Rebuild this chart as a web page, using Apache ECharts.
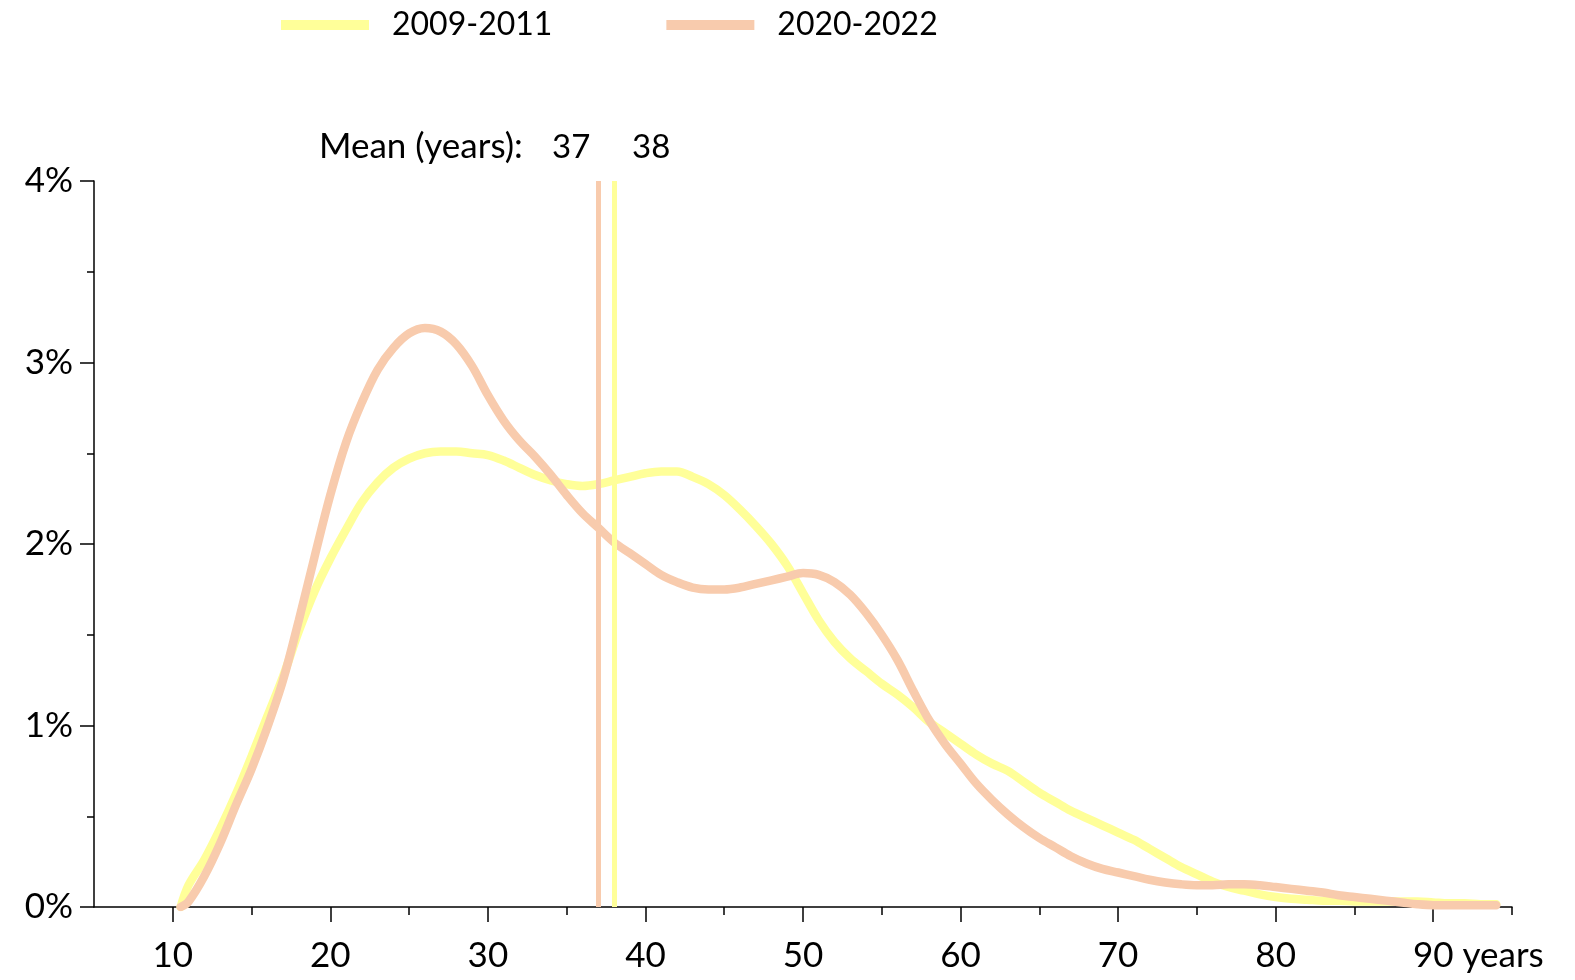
<!DOCTYPE html>
<html>
<head>
<meta charset="utf-8">
<script src="https://cdn.jsdelivr.net/npm/echarts@6/dist/echarts.min.js"></script>
<style>
  html, body { margin: 0; padding: 0; background: #ffffff; }
  #chart { width: 1575px; height: 980px; }
</style>
</head>
<body>
<div id="chart"></div>
<script>
// ---- Data ----
const seriesNames = ['2009-2011', '2020-2022'];
const seriesColors = ['#FFFF99', '#F8CBAD'];
const ages = [10.5, 11, 12, 13, 14, 15, 16, 17, 18, 19, 20, 21, 22, 23, 24, 25, 26, 27, 28, 29, 30,
  31, 32, 33, 34, 35, 36, 37, 38, 39, 40, 41, 42, 43, 44, 45, 46, 47, 48, 49, 50,
  51, 52, 53, 54, 55, 56, 57, 58, 59, 60, 61, 62, 63, 64, 65, 66, 67, 68, 69, 70,
  71, 72, 73, 74, 75, 76, 77, 78, 79, 80, 81, 82, 83, 84, 85, 86, 87, 88, 89, 90,
  91, 92, 93, 94];
const share2009 = [0, 0.12, 0.26, 0.43, 0.62, 0.83, 1.05, 1.27, 1.52, 1.74, 1.92,
  2.08, 2.23, 2.34, 2.42, 2.47, 2.50, 2.51, 2.51, 2.50, 2.49,
  2.46, 2.42, 2.38, 2.35, 2.33, 2.32, 2.33, 2.35, 2.37, 2.39,
  2.40, 2.40, 2.37, 2.33, 2.27, 2.19, 2.10, 2.00, 1.88, 1.73,
  1.58, 1.46, 1.37, 1.30, 1.23, 1.17, 1.10, 1.02, 0.96, 0.90,
  0.84, 0.79, 0.75, 0.69, 0.63, 0.58, 0.53, 0.49, 0.45, 0.41,
  0.37, 0.32, 0.27, 0.22, 0.18, 0.14, 0.11, 0.09, 0.07, 0.055,
  0.045, 0.04, 0.035, 0.035, 0.03, 0.03, 0.03, 0.03, 0.03, 0.025,
  0.02, 0.02, 0.015, 0.015];
const share2020 = [0, 0.03, 0.17, 0.35, 0.56, 0.76, 0.99, 1.25, 1.58, 1.93, 2.27,
  2.56, 2.78, 2.96, 3.08, 3.16, 3.19, 3.17, 3.10, 2.98, 2.82,
  2.68, 2.57, 2.48, 2.38, 2.27, 2.17, 2.09, 2.01, 1.95, 1.89,
  1.83, 1.79, 1.76, 1.75, 1.75, 1.76, 1.78, 1.80, 1.82, 1.84,
  1.83, 1.79, 1.72, 1.62, 1.50, 1.36, 1.19, 1.03, 0.90, 0.79,
  0.68, 0.59, 0.51, 0.44, 0.38, 0.33, 0.28, 0.24, 0.21, 0.19,
  0.17, 0.15, 0.135, 0.125, 0.12, 0.12, 0.125, 0.125, 0.12, 0.11,
  0.10, 0.09, 0.08, 0.065, 0.055, 0.045, 0.035, 0.025, 0.015, 0.01,
  0.01, 0.01, 0.01, 0.01];
const means = [38, 37];            // 2009-2011, 2020-2022
const meanLabelValues = [37, 38];  // as printed in the header
const meanTitle = 'Mean (years):';
const xMajorTicks = [10, 20, 30, 40, 50, 60, 70, 80, 90];
const xMinorTicks = [15, 25, 35, 45, 55, 65, 75, 85, 95];
const xUnit = 'years';
const yTicks = [0, 1, 2, 3, 4];

// ---- Layout helpers ----
const FONT = 'Lato';
const LABEL_SIZE = 35;
function textWidth(str, size) {
  const c = document.createElement('canvas').getContext('2d');
  c.font = size + 'px ' + FONT;
  return c.measureText(str).width;
}
const unitPad = textWidth(' ' + xUnit, LABEL_SIZE);

const chart = echarts.init(document.getElementById('chart'), null, { renderer: 'canvas' });

const makeSeries = (i, values) => ({
  name: seriesNames[i],
  type: 'line',
  xAxisIndex: 0,
  yAxisIndex: 0,
  data: ages.map((a, k) => [a, values[k]]),
  smooth: 0.35,
  showSymbol: false,
  symbol: 'none',
  lineStyle: { color: seriesColors[i], width: 8.5, cap: 'round' },
  itemStyle: { color: seriesColors[i] },
  emphasis: { disabled: true },
  markLine: {
    silent: true,
    symbol: ['none', 'none'],
    label: { show: false },
    lineStyle: { color: seriesColors[i], width: 5, type: 'solid' },
    emphasis: { disabled: true },
    data: [{ xAxis: means[i] }]
  },
  z: 2 + i
});

const option = {
  backgroundColor: '#ffffff',
  animation: false,
  textStyle: { fontFamily: FONT },
  grid: { left: 94, right: 63, top: 181, bottom: 73, containLabel: false, outerBoundsMode: 'none' },
  legend: {
    left: 281,
    top: 9,
    padding: 0,
    icon: 'rect',
    itemWidth: 88,
    itemHeight: 10,
    itemGap: 114,
    data: seriesNames,
    textStyle: { fontSize: 32, color: '#000', fontFamily: FONT, padding: [0, 0, 0, 18] }
  },
  graphic: [
    { type: 'text', left: 319, top: 129, style: { text: meanTitle, fontSize: 35, fontFamily: FONT, fill: '#000' } },
    { type: 'text', left: 552, top: 131, style: { text: String(meanLabelValues[0]), fontSize: 33, fontFamily: FONT, fill: '#000' } },
    { type: 'text', left: 632, top: 131, style: { text: String(meanLabelValues[1]), fontSize: 33, fontFamily: FONT, fill: '#000' } }
  ],
  xAxis: [
    {
      type: 'value',
      min: 5,
      max: 95,
      interval: 5,
      position: 'bottom',
      axisLine: { show: true, onZero: false, lineStyle: { color: '#000', width: 1.5 } },
      axisTick: { show: true, length: 15, customValues: xMajorTicks, lineStyle: { color: '#000', width: 1.5 } },
      axisLabel: {
        show: true,
        customValues: xMajorTicks,
        margin: 31,
        fontSize: LABEL_SIZE,
        fontFamily: FONT,
        color: '#000',
        formatter: v => v === xMajorTicks[xMajorTicks.length - 1] ? '{u|' + v + ' ' + xUnit + '}' : String(v),
        rich: { u: { fontSize: LABEL_SIZE, fontFamily: FONT, color: '#000', padding: [0, 0, 0, unitPad] } }
      },
      splitLine: { show: false }
    },
    {
      type: 'value',
      min: 5,
      max: 95,
      interval: 5,
      position: 'bottom',
      axisLine: { show: false, onZero: false },
      axisTick: { show: true, length: 8, customValues: xMinorTicks, lineStyle: { color: '#000', width: 1.5 } },
      axisLabel: { show: false },
      splitLine: { show: false }
    }
  ],
  yAxis: {
    type: 'value',
    min: yTicks[0],
    max: yTicks[yTicks.length - 1],
    interval: 1,
    axisLine: { show: true, onZero: false, lineStyle: { color: '#000', width: 1.5 } },
    axisTick: { show: true, length: 14, lineStyle: { color: '#000', width: 1.5 } },
    minorTick: { show: true, splitNumber: 2, length: 7, lineStyle: { color: '#000', width: 1.5 } },
    axisLabel: { margin: 21, fontSize: LABEL_SIZE, fontFamily: FONT, color: '#000', formatter: '{value}%' },
    splitLine: { show: false },
    minorSplitLine: { show: false }
  },
  series: [makeSeries(0, share2009), makeSeries(1, share2020)]
};

chart.setOption(option);
</script>
</body>
</html>
